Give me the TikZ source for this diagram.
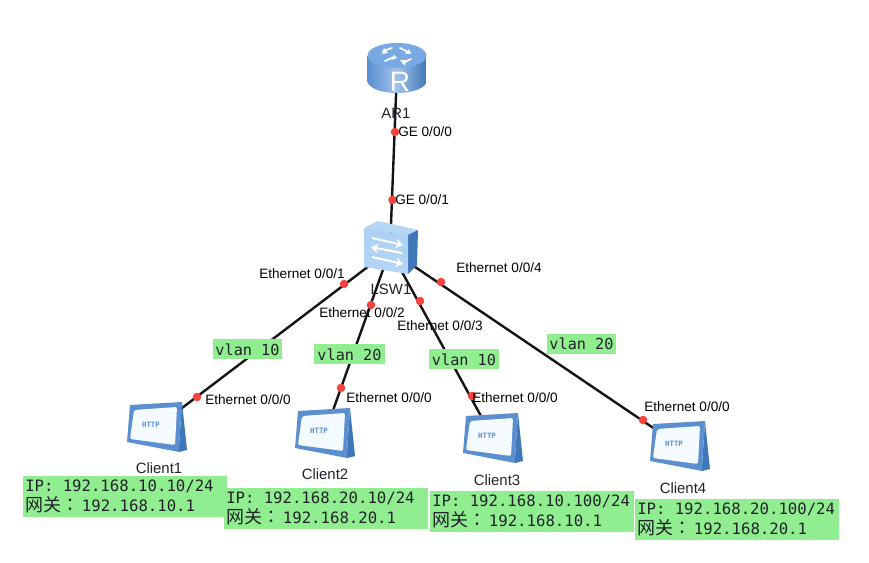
\documentclass[tikz,border=0pt]{standalone}
\usepackage{fontspec}
\setmainfont{Liberation Sans}
\setmonofont{DejaVu Sans Mono}
\newfontfamily\cjkfont{Noto Sans CJK SC}
\newfontfamily\cjkpunct{Noto Sans CJK TC}
\usetikzlibrary{backgrounds,arrows.meta}

\definecolor{iconblue}{HTML}{5B8FD0}
\definecolor{icondark}{HTML}{3F78B8}
\definecolor{iconlight}{HTML}{B5D6F5}
\definecolor{routertop}{HTML}{78A9E2}
\definecolor{portred}{HTML}{F8423E}
\definecolor{notegreen}{HTML}{90EE90}
\definecolor{screenwhite}{HTML}{F5FAFF}
\definecolor{textdark}{HTML}{22222A}

% The two lines of an address note
\newcommand{\ipline}[1]{IP:\kern3pt\ #1}
\newcommand{\gwline}[1]{{\fontsize{13.5pt}{15pt}\selectfont\cjkfont 网关\cjkpunct ：}\kern2pt #1}

\tikzset{
  x=0.75pt, y=-0.75pt,
  link/.style={line width=1.8pt, black!92},
  port/.style={circle, fill=portred, inner sep=0pt, minimum size=6.4pt},
  devname/.style={font=\fontsize{11.2pt}{13pt}\selectfont, text=textdark, inner sep=0pt},
  portname/.style={font=\fontsize{10.2pt}{12pt}\selectfont, text=black, inner sep=0pt},
  vlantag/.style={fill=notegreen, font=\ttfamily\fontsize{11.4pt}{13pt}\selectfont, text=textdark, inner sep=0pt, minimum height=15pt, text centered},
  addrbox/.style={fill=notegreen, anchor=north west, align=left, inner xsep=1.5pt, inner ysep=1pt,
    text width=149.5pt, minimum height=30.5pt, text=textdark, font=\ttfamily\fontsize{11.75pt}{15pt}\selectfont},
  anchorpt/.style={inner sep=0pt, minimum size=1pt},
  swarrow/.style={white, line width=1.5pt, arrows={-Stealth[length=5.5pt,width=7.5pt]}},
  pics/routericon/.style={code={
    \shade[left color=iconblue, right color=icondark, middle color=routertop!70!white]
      (-29.5,-14) -- (-29.5,11) arc[start angle=180, end angle=0, x radius=29.5, y radius=12]
      -- (29.5,-14) -- cycle;
    \fill[routertop] (0,-14.5) ellipse[x radius=29.5, y radius=12.5];
    \draw[white, line width=1.3pt, line cap=round] (-12,-9) -- (-3,-13) (3,-22) -- (11,-18) (-5,-22) -- (-14,-19) (6,-7) -- (14,-11);
    \fill[white] (-3,-15.5) -- (0,-12) -- (-5,-10) -- cycle
      (12,-21) -- (14,-16) -- (8,-16) -- cycle
      (-13,-22) -- (-15,-16) -- (-9,-17) -- cycle
      (3,-10) -- (8,-4) -- (9,-10) -- cycle;
    \node[text=white, font=\fontsize{21pt}{21pt}\selectfont, inner sep=0pt] at (3,12) {R};
  }},
  pics/switchicon/.style={code={
    \fill[iconlight] (-26,-22) -- (-12,-29) -- (28,-20) -- (18,-15) -- cycle;
    \fill[icondark] (18,-15) -- (28,-20) -- (27,15) -- (18,24) -- cycle;
    \shade[top color=iconlight!90!iconblue, bottom color=iconlight] (-26,-22) -- (18,-15) -- (18,24) -- (-26,17) -- cycle;
    \draw[swarrow] (-18,-12) -- (13,-5);
    \draw[swarrow] (12,3) -- (-19,-3);
    \draw[swarrow] (-18,7) -- (13,14);
  }},
  pics/clienticon/.style={code={
    \fill[icondark] (25,-25) -- (30,23) -- (22,25) -- (22,20) -- cycle;
    \fill[iconblue] (-27,-22) -- (25,-25) -- (22,20) -- (22,25) -- (-30,15) -- cycle;
    \fill[screenwhite, rounded corners=1.5pt] (-23,-17) -- (20,-20) -- (18,18) -- (-27,12) -- cycle;
    \node[text=iconblue, font=\ttfamily\bfseries\fontsize{5.5pt}{6pt}\selectfont, inner sep=0pt] at (-6,-2) {HTTP};
  }},
}

\begin{document}
\begin{tikzpicture}
  \useasboundingbox (0,0) rectangle (869,563);

  % Device centres, so that links can be laid under the icons
  \node[anchorpt] (ar1) at (397,70) {};
  \node[anchorpt] (lsw1) at (390,250) {};
  \node[anchorpt] (c1) at (157,427) {};
  \node[anchorpt] (c2) at (325,433) {};
  \node[anchorpt] (c3) at (493,438) {};
  \node[anchorpt] (c4) at (680,446) {};

  % Links
  \begin{scope}[on background layer]
    \draw[link] (ar1.center) -- (lsw1.center);
    \draw[link] (lsw1.center) -- (c1.center);
    \draw[link] (lsw1.center) -- (c2.center);
    \draw[link] (lsw1.center) -- (c3.center);
    \draw[link] (lsw1.center) -- (c4.center);
  \end{scope}

  % Device icons
  \pic at (ar1) {routericon};
  \pic at (lsw1) {switchicon};
  \pic at (c1) {clienticon};
  \pic at (c2) {clienticon};
  \pic at (c3) {clienticon};
  \pic at (c4) {clienticon};

  % Port markers
  \node[port] (p1) at (395,132) {};
  \node[port] (p2) at (392.5,200) {};
  \node[port] (p3) at (344,284) {};
  \node[port] (p4) at (197,397) {};
  \node[port] (p5) at (371,305) {};
  \node[port] (p6) at (341,388) {};
  \node[port] (p7) at (420,301) {};
  \node[port] (p8) at (472,396) {};
  \node[port] (p9) at (441,282) {};
  \node[port] (p10) at (643,420) {};

  % Device names
  \node[devname] (n1) at (396,113) {AR1};
  \node[devname] (n2) at (391,289) {LSW1};
  \node[devname] (n3) at (159,468) {Client1};
  \node[devname] (n4) at (325,474) {Client2};
  \node[devname] (n5) at (497,480) {Client3};
  \node[devname] (n6) at (683,488) {Client4};

  % Port names
  \node[portname, anchor=west] (t1) at (398,132) {GE 0/0/0};
  \node[portname, anchor=west] (t2) at (395,200) {GE 0/0/1};
  \node[portname] (t3) at (302,273.5) {Ethernet 0/0/1};
  \node[portname] (t4) at (362,312.5) {Ethernet 0/0/2};
  \node[portname] (t5) at (440,325.5) {Ethernet 0/0/3};
  \node[portname] (t6) at (499,267.5) {Ethernet 0/0/4};
  \node[portname] (t7) at (248,399.5) {Ethernet 0/0/0};
  \node[portname] (t8) at (389,397.5) {Ethernet 0/0/0};
  \node[portname] (t9) at (515,397.5) {Ethernet 0/0/0};
  \node[portname] (t10) at (687,406.5) {Ethernet 0/0/0};

  % VLAN tags
  \node[vlantag, minimum width=52pt] (v1) at (247.5,349.5) {vlan 10};
  \node[vlantag, minimum width=53pt] (v2) at (349.5,354.5) {vlan 20};
  \node[vlantag, minimum width=52pt] (v3) at (464,359.5) {vlan 10};
  \node[vlantag, minimum width=52pt] (v4) at (581.5,344) {vlan 20};

  % Address notes
  \node[addrbox] (a1) at (23,476) {\ipline{192.168.10.10/24}\\\gwline{192.168.10.1}};
  \node[addrbox] (a2) at (224,488) {\ipline{192.168.20.10/24}\\\gwline{192.168.20.1}};
  \node[addrbox] (a3) at (430,491) {\ipline{192.168.10.100/24}\\\gwline{192.168.10.1}};
  \node[addrbox] (a4) at (635,499) {\ipline{192.168.20.100/24}\\\gwline{192.168.20.1}};
\end{tikzpicture}
\end{document}
